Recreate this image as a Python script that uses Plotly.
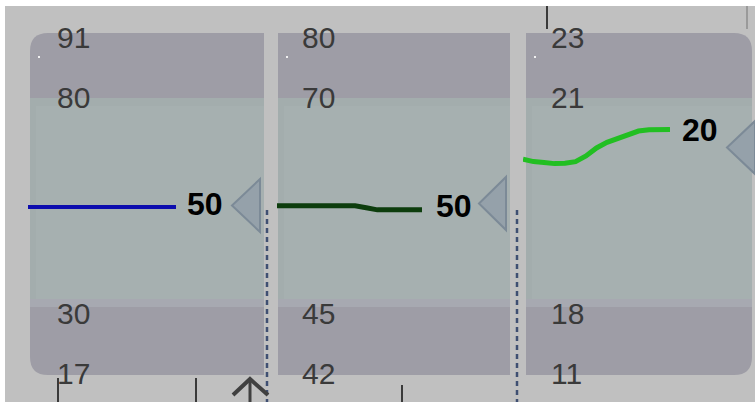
import plotly.graph_objects as go

# ---------------- data ----------------
panel_labels_1 = ["91", "80", "30", "17"]
panel_labels_2 = ["80", "70", "45", "42"]
panel_labels_3 = ["23", "21", "18", "11"]
tick_levels = [90.7, 75.7, 22.0, 7.1]          # label positions on the 0-100 display scale
readouts = ["50", "50", "20"]
series_1 = [48.5, 48.5, 48.5, 48.5, 48.5, 48.5, 48.5, 48.5, 48.5, 48.5, 48.5, 48.5]
series_2 = [48.8, 48.8, 48.8, 48.8, 48.8, 48.8, 48.8, 48.8, 48.3, 47.8, 47.8, 47.8, 47.8, 47.8]
series_3 = [60.4, 59.8, 59.6, 59.3, 59.4, 59.8, 61.2, 63.2, 64.6, 65.6, 66.7, 67.4, 67.7, 67.7, 67.8]

W, H = 755, 402


def px(x):
    return x / W


def py(y):
    return 1 - y / H


BG = "#c0c0c0"
PANEL = "#9e9da6"
BAND_TOP = "#a3adad"
BAND_BOT = "#a7a9b1"
BAND_IN = "#a6b0b0"
LABEL_C = "#3a3a3a"

fig = go.Figure()

line_colors = ["#0c0cae", "#0d3d0d", "#22bf22"]
line_widths = [4, 5, 5]
series = [series_1, series_2, series_3]
for i, s in enumerate(series):
    sfx = "" if i == 0 else str(i + 1)
    fig.add_trace(go.Scatter(
        x=list(range(len(s))), y=s, mode="lines",
        line=dict(color=line_colors[i], width=line_widths[i]),
        xaxis="x" + sfx, yaxis="y" + sfx, hoverinfo="skip", showlegend=False,
    ))

x_domains = [(28, 176), (277, 422), (523, 670)]
layout_axes = {}
for i, (a, b) in enumerate(x_domains):
    sfx = "" if i == 0 else str(i + 1)
    layout_axes["xaxis" + sfx] = dict(domain=[px(a), px(b)], range=[0, len(series[i]) - 1],
                                      visible=False, fixedrange=True, anchor="y" + sfx)
    layout_axes["yaxis" + sfx] = dict(domain=[0, 1], range=[0, 100], visible=False,
                                      fixedrange=True, anchor="x" + sfx)

shapes = []
# outer background
shapes.append(dict(type="rect", xref="paper", yref="paper", x0=px(5), x1=1, y0=0, y1=py(6),
                   fillcolor=BG, line=dict(width=0), layer="below"))

# panels
rx, ry = 18 / W, 18 / H
panels = [(30, 264, "left"), (278, 510, None), (526, 752, "right")]
yt, yb = py(33), py(375)
for (a, b, rnd) in panels:
    x0, x1 = px(a), px(b)
    if rnd == "left":
        path = (f"M {x0+rx},{yt} L {x1},{yt} L {x1},{yb} L {x0+rx},{yb} "
                f"Q {x0},{yb} {x0},{yb+ry} L {x0},{yt-ry} Q {x0},{yt} {x0+rx},{yt} Z")
    elif rnd == "right":
        path = (f"M {x0},{yt} L {x1-rx},{yt} Q {x1},{yt} {x1},{yt-ry} L {x1},{yb+ry} "
                f"Q {x1},{yb} {x1-rx},{yb} L {x0},{yb} Z")
    else:
        path = f"M {x0},{yt} L {x1},{yt} L {x1},{yb} L {x0},{yb} Z"
    shapes.append(dict(type="path", xref="paper", yref="paper", path=path,
                       fillcolor=PANEL, line=dict(width=0), layer="below"))
    shapes.append(dict(type="rect", xref="paper", yref="paper", x0=x0, x1=x1,
                       y0=py(307), y1=py(299), fillcolor=BAND_BOT, line=dict(width=0), layer="below"))
    shapes.append(dict(type="rect", xref="paper", yref="paper", x0=x0, x1=x1,
                       y0=py(299), y1=py(98), fillcolor=BAND_TOP, line=dict(width=0), layer="below"))
    shapes.append(dict(type="rect", xref="paper", yref="paper", x0=px(a + 6), x1=x1,
                       y0=py(299), y1=py(106), fillcolor=BAND_IN, line=dict(width=0), layer="below"))
    # small white dot
    shapes.append(dict(type="rect", xref="paper", yref="paper", x0=px(a + 8), x1=px(a + 10),
                       y0=py(58), y1=py(56), fillcolor="#f0f0f0", line=dict(width=0), layer="below"))

# dashed separators
for xd in (267, 517):
    shapes.append(dict(type="line", xref="paper", yref="paper", x0=px(xd), x1=px(xd),
                       y0=py(210), y1=0, line=dict(color="#3f4f72", width=2.5, dash="5px,4px"),
                       layer="below"))

# tick marks at edges
for (xt, ya, yb2, col) in [(58, 378, 402, "#3a3a3a"), (196, 378, 402, "#3a3a3a"),
                           (402, 385, 402, "#3a3a3a"), (547, 6, 29, "#3a3a3a"),
                           (747, 6, 29, "#9a9a9a")]:
    shapes.append(dict(type="line", xref="paper", yref="paper", x0=px(xt), x1=px(xt),
                       y0=py(ya), y1=py(yb2), line=dict(color=col, width=2), layer="below"))

# chevron arrow at bottom
shapes.append(dict(type="path", xref="paper", yref="paper",
                   path=f"M {px(233)},{py(395)} L {px(250)},{py(379)} L {px(268)},{py(395)}",
                   line=dict(color="#404040", width=4), layer="below"))
shapes.append(dict(type="line", xref="paper", yref="paper", x0=px(250), x1=px(250),
                   y0=py(381), y1=0, line=dict(color="#404040", width=3), layer="below"))

# value pointer triangles
for (tip_x, base_x, yc) in [(232, 260, 205.5), (479, 506, 203.5), (727, 755, 147.5)]:
    path = (f"M {px(tip_x)},{py(yc)} L {px(base_x)},{py(yc-26.5)} "
            f"L {px(base_x)},{py(yc+26.5)} Z")
    shapes.append(dict(type="path", xref="paper", yref="paper", path=path,
                       fillcolor="#95a1aa", line=dict(color="#7c8a97", width=2), layer="below"))

annotations = []
label_x = [55, 300, 549]
for i, labels in enumerate([panel_labels_1, panel_labels_2, panel_labels_3]):
    sfx = "" if i == 0 else str(i + 1)
    for lab, lev in zip(labels, tick_levels):
        annotations.append(dict(xref="paper", yref="y" + sfx, x=px(label_x[i]), y=lev,
                                text=lab, showarrow=False, xanchor="left", yanchor="middle",
                                font=dict(family="Liberation Sans, Arial", size=30, color=LABEL_C)))

readout_x = [205, 454, 700]
readout_shift = [3, 4, -1]
for i, r in enumerate(readouts):
    sfx = "" if i == 0 else str(i + 1)
    annotations.append(dict(xref="paper", yref="y" + sfx, x=px(readout_x[i]), y=series[i][-1],
                            yshift=readout_shift[i], text=f"<b>{r}</b>", showarrow=False,
                            xanchor="center", yanchor="middle",
                            font=dict(family="Liberation Sans, Arial", size=32, color="#000000")))

fig.update_layout(
    width=W, height=H, margin=dict(l=0, r=0, t=0, b=0),
    paper_bgcolor="#ffffff", plot_bgcolor="rgba(0,0,0,0)",
    shapes=shapes, annotations=annotations, showlegend=False,
    **layout_axes,
)

fig.write_html("out.html", config={"displayModeBar": False},
               post_script="document.body.style.margin='0';document.body.style.overflow='hidden';")
